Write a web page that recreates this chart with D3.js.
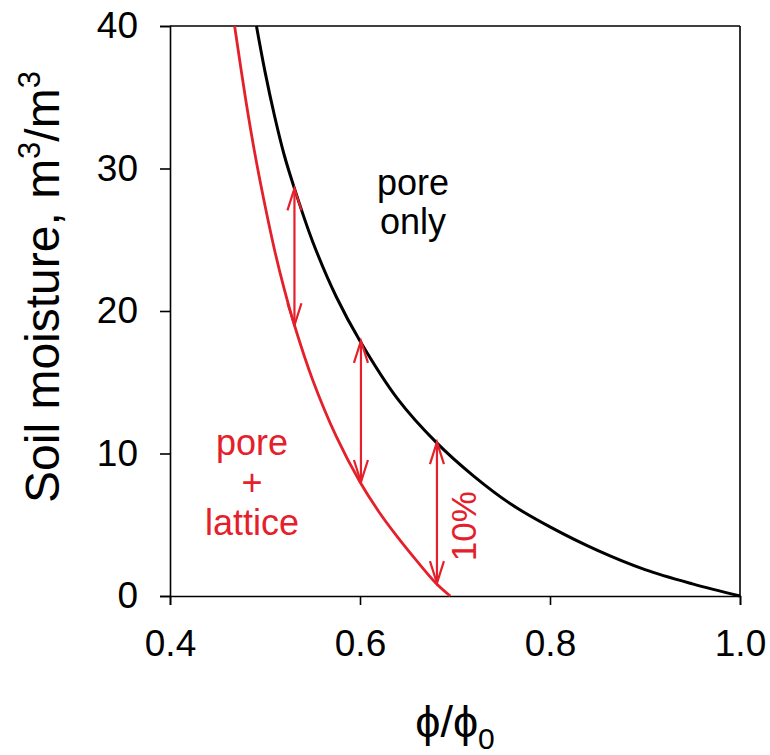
<!DOCTYPE html>
<html>
<head>
<meta charset="utf-8">
<script src="https://cdn.jsdelivr.net/npm/d3@7/dist/d3.min.js"></script>
<style>
    body { margin: 0; background: #fff; }
    svg { display: block; font-family: "Liberation Sans", Arial, "DejaVu Sans", sans-serif; }
</style>
</head>
<body>
<svg id="chart" width="770" height="755"></svg>
<script>
// Pore-only curve (black)
const porePhi = [0.491, 0.50, 0.51, 0.52, 0.531, 0.55, 0.575, 0.60, 0.64, 0.68, 0.72, 0.76, 0.80, 0.85, 0.90, 0.95, 1.0];
const poreMoisture = [40, 36.8, 33.7, 31.0, 28.6, 24.9, 21.0, 17.9, 13.8, 10.8, 8.4, 6.4, 4.85, 3.2, 1.85, 0.85, 0];

// Pore + lattice curve (red)
const latticePhi = [0.468, 0.48, 0.49, 0.50, 0.51, 0.52, 0.531, 0.55, 0.575, 0.60, 0.62, 0.64, 0.66, 0.68, 0.695];
const latticeMoisture = [40, 34.7, 30.8, 27.4, 24.3, 21.6, 19.0, 15.2, 11.2, 8.0, 5.9, 4.1, 2.45, 0.9, 0];

// Double arrows between the curves
const arrowPhi = [0.531, 0.601, 0.681];
const arrowLow = [19.0, 8.0, 0.9];
const arrowHigh = [28.6, 17.9, 10.8];

const xTicks = [0.4, 0.6, 0.8, 1.0];
const yTicks = [0, 10, 20, 30, 40];

const RED = '#e4202b';

const margin = { top: 26, left: 170, right: 30, bottom: 159 };
const width = 570;
const height = 570;

const svg = d3.select('#chart');
const g = svg.append('g').attr('transform', `translate(${margin.left},${margin.top})`);

const x = d3.scaleLinear().domain([0.4, 1.0]).range([0, width]);
const y = d3.scaleLinear().domain([0, 40]).range([height, 0]);

// Frame (top + right)
g.append('line')
    .attr('x1', 0).attr('x2', width).attr('y1', 0).attr('y2', 0)
    .attr('stroke', '#000').attr('stroke-width', 1.6);
g.append('line')
    .attr('x1', width).attr('x2', width).attr('y1', 0).attr('y2', height)
    .attr('stroke', '#000').attr('stroke-width', 1.6);

// Axes
const xAxis = g.append('g')
    .attr('transform', `translate(0,${height})`)
    .call(d3.axisBottom(x).tickValues(xTicks).tickFormat(d3.format('.1f')).tickSize(9).tickPadding(25));

const yAxis = g.append('g')
    .call(d3.axisLeft(y).tickValues(yTicks).tickFormat(d3.format('d')).tickSize(10).tickPadding(22));

[xAxis, yAxis].forEach(a => {
    a.select('.domain').attr('stroke', '#000').attr('stroke-width', 1.6);
    a.selectAll('.tick line').attr('stroke', '#000').attr('stroke-width', 1.6);
    a.selectAll('.tick text')
        .attr('fill', '#000')
        .style('font-size', '37px')
        .style('font-family', '"Liberation Sans", Arial, sans-serif');
});

// Curves
const line = d3.line()
    .x(d => x(d[0]))
    .y(d => y(d[1]))
    .curve(d3.curveCatmullRom.alpha(0.5));

g.append('path')
    .datum(d3.zip(porePhi, poreMoisture))
    .attr('d', line)
    .attr('fill', 'none')
    .attr('stroke', '#000')
    .attr('stroke-width', 3);

g.append('path')
    .datum(d3.zip(latticePhi, latticeMoisture))
    .attr('d', line)
    .attr('fill', 'none')
    .attr('stroke', RED)
    .attr('stroke-width', 2.8);

// Arrows
const arrows = d3.zip(arrowPhi, arrowLow, arrowHigh);
const ag = g.append('g')
    .attr('fill', 'none')
    .attr('stroke', RED)
    .attr('stroke-width', 2.2);

ag.selectAll('line')
    .data(arrows)
    .enter().append('line')
    .attr('x1', d => x(d[0])).attr('x2', d => x(d[0]))
    .attr('y1', d => y(d[1])).attr('y2', d => y(d[2]));

// open V heads at both ends
ag.selectAll('path.head-top')
    .data(arrows)
    .enter().append('path')
    .attr('class', 'head-top')
    .attr('d', d => {
        const cx = x(d[0]), cy = y(d[2]);
        return `M${cx - 7},${cy + 22}L${cx},${cy}L${cx + 7},${cy + 22}`;
    });

ag.selectAll('path.head-bottom')
    .data(arrows)
    .enter().append('path')
    .attr('class', 'head-bottom')
    .attr('d', d => {
        const cx = x(d[0]), cy = y(d[1]);
        return `M${cx - 7},${cy - 22}L${cx},${cy}L${cx + 7},${cy - 22}`;
    });

// Annotations
const poreOnly = g.append('text')
    .attr('text-anchor', 'middle')
    .attr('fill', '#000')
    .style('font-size', '36px');
poreOnly.append('tspan').attr('x', 243).attr('y', 169).text('pore');
poreOnly.append('tspan').attr('x', 243).attr('y', 208).text('only');

const lattice = g.append('text')
    .attr('text-anchor', 'middle')
    .attr('fill', RED)
    .style('font-size', '36px');
lattice.append('tspan').attr('x', 82).attr('y', 429).text('pore');
lattice.append('tspan').attr('x', 82).attr('y', 469).text('+');
lattice.append('tspan').attr('x', 82).attr('y', 509).text('lattice');

g.append('text')
    .attr('transform', `translate(${x(0.681) + 39},${y(4.9)}) rotate(-90)`)
    .attr('text-anchor', 'middle')
    .attr('fill', RED)
    .style('font-size', '35px')
    .text('10%');

// Axis titles
const yTitle = svg.append('text')
    .attr('transform', 'translate(59,287) rotate(-90)')
    .attr('text-anchor', 'middle')
    .attr('fill', '#000')
    .style('font-size', '48px');
yTitle.append('tspan').text('Soil moisture, m');
yTitle.append('tspan').attr('dy', -19).style('font-size', '31px').text('3');
yTitle.append('tspan').attr('dy', 19).text('/m');
yTitle.append('tspan').attr('dy', -19).style('font-size', '31px').text('3');

const xTitle = svg.append('text')
    .attr('x', 455)
    .attr('y', 737)
    .attr('text-anchor', 'middle')
    .attr('fill', '#000')
    .style('font-size', '45px');
xTitle.append('tspan').text('\u03D5/\u03D5');
xTitle.append('tspan').attr('dy', 12).style('font-size', '30px').text('0');
</script>
</body>
</html>
